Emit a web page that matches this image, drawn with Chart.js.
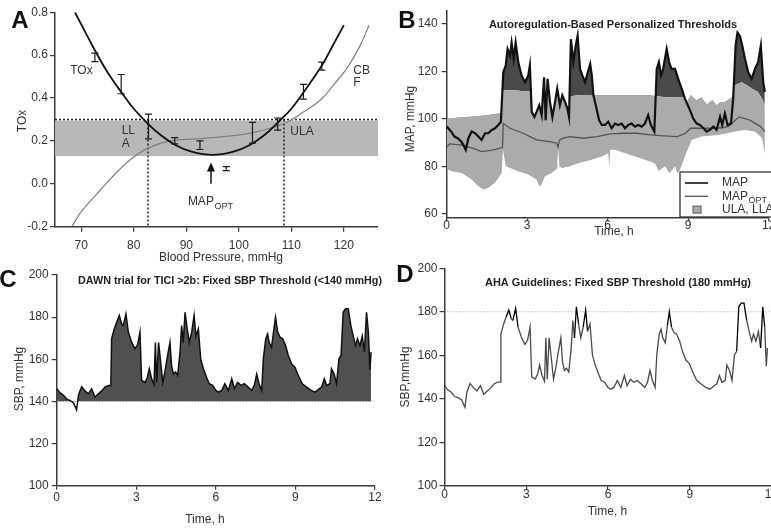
<!DOCTYPE html>
<html>
<head>
<meta charset="utf-8">
<script src="https://cdn.jsdelivr.net/npm/chart.js@4.4.1/dist/chart.umd.min.js"></script>
<style>
  html, body { margin: 0; padding: 0; background: #fff; }
  body { width: 771px; height: 529px; overflow: hidden; position: relative; }
  canvas { position: absolute; left: 0; top: 0; }
</style>
</head>
<body>
<canvas id="chartA" width="800" height="529"></canvas>
<canvas id="chartB" width="800" height="529"></canvas>
<canvas id="chartC" width="800" height="529"></canvas>
<canvas id="chartD" width="800" height="529"></canvas>
<script>
// ---------- panel A: TOx against blood pressure ----------
const aTicksX = [70, 80, 90, 100, 110, 120];
const aTicksY = [-0.2, 0, 0.2, 0.4, 0.6, 0.8];
const aToxX = [68.8, 72, 75, 78, 80, 82.7, 85, 88, 91, 95, 99, 102, 105, 108, 110, 113, 116, 118, 120];
const aTox  = [0.80, 0.65, 0.52, 0.415, 0.35, 0.28, 0.23, 0.18, 0.15, 0.135, 0.15, 0.18, 0.23, 0.30, 0.35, 0.45, 0.56, 0.65, 0.74];
const aCbfX = [68.2, 70, 73.6, 77, 80, 83, 87, 92, 97, 102, 106, 109, 112, 115.5, 118, 120.6, 123, 124.8];
const aCbf  = [-0.2, -0.13, -0.03, 0.06, 0.125, 0.17, 0.2, 0.21, 0.22, 0.235, 0.26, 0.285, 0.33, 0.39, 0.46, 0.54, 0.64, 0.74];
const aErrX  = [72.6, 77.6, 82.8, 87.8, 92.6, 97.6, 102.6, 107.4, 112.3, 115.8];
const aErrLo = [0.57, 0.42, 0.21, 0.186, 0.16, 0.062, 0.19, 0.25, 0.395, 0.53];
const aErrHi = [0.61, 0.51, 0.325, 0.215, 0.20, 0.08, 0.287, 0.307, 0.464, 0.568];
const aBand = [0.13, 0.295];     // grey zone low / high
const aLimit = 0.3;              // dotted TOx threshold
const aLimitsX = [82.7, 108.6];  // LLA, ULA
const aMapOpt = 94.7;
const aRangeX = [65, 126.5];

// ---------- panel B: personalised thresholds ----------
const bTicksX = [0, 3, 6, 9, 12];
const bTicksY = [60, 80, 100, 120, 140];
const bMapT = [0, 0.17, 0.29, 0.41, 0.54, 0.62, 0.71, 0.81, 0.93, 1.06, 1.18, 1.3, 1.43, 1.55, 1.68, 1.8, 1.92, 2.02,
  2.11, 2.2, 2.27, 2.36, 2.42, 2.5, 2.57, 2.67, 2.79, 2.92, 3.04, 3.1,
  3.17, 3.27, 3.35, 3.45, 3.54, 3.63, 3.69, 3.76, 3.85, 3.94, 4.04, 4.12, 4.22, 4.31, 4.41, 4.5, 4.56,
  4.63, 4.72, 4.81, 4.88, 4.97, 5.06, 5.16, 5.26, 5.35, 5.41, 5.47, 5.6, 5.68, 5.78,
  5.9, 6.02, 6.15, 6.27, 6.4, 6.52, 6.65, 6.77, 6.89, 7.02, 7.14, 7.27, 7.39, 7.51, 7.61, 7.74,
  7.83, 7.91, 7.99, 8.07, 8.2, 8.29, 8.38, 8.51, 8.63, 8.76, 8.88, 9.07, 9.19, 9.32, 9.44, 9.57, 9.69, 9.81, 9.94, 10.06, 10.19, 10.27, 10.37, 10.47, 10.6, 10.68,
  10.77, 10.84, 10.93, 11.02, 11.12, 11.24, 11.37, 11.49, 11.61, 11.71, 11.8, 11.86];
const bMap = [96.7, 94.6, 92.5, 91.8, 90.4, 89, 86.9, 91.8, 94.6, 93.9, 92.5, 91.1, 93.9, 93.9, 95.3, 96, 97.4, 98.7,
  119.6, 122.4, 129.4, 126.6, 132, 125.2, 132, 123.8, 118.2, 115.4, 118.2, 122.4,
  102.9, 100.8, 102.9, 105.7, 101.5, 117.5, 99.4, 116.8, 107.1, 100.8, 107.1, 112.7, 105.7, 109.9, 107.1, 104.3, 100.8,
  133.5, 123.8, 130.8, 134.9, 121, 118.2, 115.4, 119.6, 123.1, 118.2, 109.9, 103.6, 99.4, 97.4,
  97.4, 98.7, 96, 98, 97.4, 98, 96, 97.4, 98, 96.7, 97.4, 96.7, 98, 101.5, 97.4, 94.6,
  121, 123.8, 118.2, 121, 129.4, 123.8, 121, 121, 116.8, 112.7, 108.5, 103.6, 100.1, 98, 97.4, 96, 94.6, 95.3, 96.7, 95.3, 100.8, 97.4, 102.2, 97.4, 98, 108.5,
  130.8, 136.3, 134.9, 130.8, 125.2, 119.6, 116.8, 121, 123.8, 130.8, 115.4, 111.3];
const bOptT = [0, 0.1, 0.5, 1.0, 1.3, 1.7, 2.0, 2.08, 2.11, 2.36, 2.85, 3.35, 3.84, 4.1, 4.15, 4.2, 4.35, 4.6, 5.1, 5.6,
  6.1, 6.6, 7.1, 7.6, 8.1, 8.6, 8.9, 9.1, 9.6, 10.1, 10.5, 10.9, 11.3, 11.7, 11.86];
const bOpt = [88, 89.4, 89, 87.5, 86.2, 86.8, 87.6, 88, 98, 96, 93.9, 91.1, 90.4, 89.7, 88, 91, 91.8, 92.5, 91.8, 92.5,
  93.6, 93.9, 93.9, 93.2, 92.8, 92.5, 93.9, 96, 96, 96, 96.7, 100.8, 99.4, 96.7, 94.6];
const bUlaT = [0, 0.5, 1.0, 1.5, 2.0, 2.08, 2.11, 2.5, 3.0, 3.12,
  3.17, 3.27, 3.35, 3.45, 3.54, 3.63, 3.69, 3.76, 3.85, 3.94, 4.04, 4.12, 4.22, 4.31, 4.41, 4.5, 4.56,
  4.62, 5.0, 5.5, 6.0, 6.5, 7.0, 7.5, 7.8, 8.3, 8.85, 8.95,
  9.1, 9.3, 9.5, 9.7, 9.9, 10.06, 10.2, 10.37, 10.5, 10.65, 10.72, 11.0, 11.2, 11.37, 11.6, 11.75, 11.86];
const bUla = [100, 100.5, 101, 101.5, 102.3, 102.5, 112, 112, 111.5, 111.5,
  102.9, 100.8, 102.9, 105.7, 101.5, 117.5, 99.4, 116.8, 107.1, 100.8, 107.1, 112.7, 105.7, 109.9, 107.1, 104.3, 100.8,
  109.5, 110, 110, 110, 110, 110, 110, 109.5, 109, 109, 107,
  109.9, 107.8, 109, 106, 107.8, 105.7, 107, 107.1, 108, 109.2, 114, 115.4, 114, 112.7, 111.3, 108.5, 105.7];
const bLlaT = [0, 0.05, 0.19, 0.56, 0.93, 1.18, 1.37, 1.55, 1.8, 2.05, 2.1, 2.2, 2.36, 2.67, 3.04, 3.35, 3.45, 3.54, 3.66, 3.91,
  4.12, 4.15, 4.2, 4.29, 4.6, 4.9, 5.4, 5.78, 6.02, 6.06, 6.1, 6.27, 6.65, 7.02, 7.39, 7.76, 7.9, 8.14, 8.3, 8.51,
  8.6, 8.7, 8.88, 9.13, 9.5, 10.12, 10.75, 11.1, 11.49, 11.75, 11.86];
const bLla = [73.7, 78.6, 77.9, 77.2, 74.4, 71.6, 70.2, 70.9, 73, 77.2, 86.9, 80, 79.3, 77.9, 76.5, 74.4, 71.5, 72.3, 75.8, 77.2,
  79, 88, 80, 79.3, 80, 81.3, 82.7, 84.1, 85.5, 80, 87, 86.9, 85.5, 84.1, 82.7, 81.3, 78, 80, 77, 80,
  77, 78.6, 84.1, 91.1, 92.5, 93.2, 94.6, 95.3, 94.6, 92, 85.5];

// ---------- panels C and D: the same SBP trace ----------
const sbpTicksX = [0, 3, 6, 9, 12];
const sbpTicksY = [100, 120, 140, 160, 180, 200];
const sbpT = [0, 0.13, 0.25, 0.38, 0.5, 0.63, 0.75, 0.82, 0.94, 1.07,
  1.19, 1.32, 1.44, 1.57, 1.7, 1.82, 1.95, 2.04, 2.07, 2.16,
  2.26, 2.36, 2.45, 2.51, 2.61, 2.7, 2.83, 2.95, 3.05, 3.14,
  3.2, 3.33, 3.42, 3.49, 3.58, 3.67, 3.72, 3.77, 3.84, 3.92,
  4.0, 4.08, 4.17, 4.27, 4.33, 4.4, 4.48, 4.56, 4.65, 4.71,
  4.77, 4.84, 4.92, 5.0, 5.09, 5.18, 5.25, 5.34, 5.43, 5.53,
  5.65, 5.75, 5.88, 6.0, 6.09, 6.22, 6.34, 6.47, 6.6, 6.7,
  6.82, 6.95, 7.07, 7.22, 7.35, 7.45, 7.54, 7.63, 7.73, 7.79,
  7.88, 7.95, 8.01, 8.1, 8.18, 8.25, 8.33, 8.42, 8.52, 8.63,
  8.73, 8.86, 8.98, 9.11, 9.26, 9.42, 9.59, 9.74, 9.89, 9.99,
  10.09, 10.18, 10.3, 10.36, 10.46, 10.55, 10.64, 10.72, 10.8, 10.89,
  10.99, 11.09, 11.18, 11.27, 11.34, 11.43, 11.52, 11.6, 11.68, 11.75,
  11.81, 11.85];
const sbp = [146, 144, 143, 141, 140.5, 139.4, 136, 143, 147, 145,
  143.6, 146, 142, 143.6, 145, 146.8, 147.6, 147.6, 169.7, 174,
  177.6, 180.8, 176.8, 176, 181.5, 172.9, 168, 165, 167, 172.9,
  150, 149, 151.5, 155.5, 150.7, 148, 168, 149, 168, 158.6,
  149, 154, 161, 168, 157, 153, 154, 152.3, 163.4, 176,
  168, 182.3, 174.4, 168, 173, 180.8, 171, 174.4, 160, 155.5,
  151.5, 148.4, 147.6, 145.2, 144.4, 145.2, 148.4, 145.2, 150.7, 146,
  149, 147.6, 148.4, 146.8, 145.2, 147.6, 153, 148.4, 145.2, 160.2,
  169.7, 172, 168, 165.7, 173.6, 180, 172.9, 170.5, 169.7, 166.5,
  161.8, 157.8, 156.3, 152.3, 148.4, 146.8, 145.2, 144.4, 146, 146.8,
  150.7, 147.6, 148.4, 155.5, 153, 148.4, 160.2, 161.8, 182.3, 184,
  184, 176, 171, 166.5, 169.7, 166.5, 171, 163.4, 182.3, 172.9,
  155, 163.4];
const dawnLimit = 140;
const ahaLimit = 180;

// ---------- shared setup ----------
const FONT = '"Liberation Sans", Arial, Helvetica, sans-serif';
Chart.defaults.font.family = FONT;
Chart.defaults.font.size = 12;
Chart.defaults.color = '#333';
Chart.defaults.animation = false;
Chart.defaults.events = [];
Chart.defaults.plugins.legend.display = false;
Chart.defaults.plugins.tooltip.enabled = false;
Chart.defaults.elements.point.radius = 0;

const W = 800, H = 529;
const AXIS = '#3a3a3a';

const pts = (xs, ys) => xs.map((x, i) => ({ x, y: ys[i] }));

// each canvas covers the whole page, the padding puts the plot area where it belongs
function frame(box) {
  return { padding: { left: box.l - box.yw, top: box.t, right: W - box.r, bottom: H - box.b - box.xh } };
}

function axis(box, horizontal, min, max, ticks, tick, fmt) {
  return {
    type: 'linear', min, max,
    afterBuildTicks: s => { s.ticks = ticks.map(v => ({ value: v })); },
    afterFit: s => { if (horizontal) s.height = box.xh; else s.width = box.yw; },
    grid: { drawOnChartArea: false, drawTicks: true, tickLength: tick.len, color: AXIS, lineWidth: 1.2 },
    border: { display: true, color: AXIS, width: 1.5 },
    ticks: { padding: tick.pad, color: '#333', font: { size: 12 }, callback: fmt || (v => v) }
  };
}

const notes = {
  id: 'notes',
  afterDraw(chart, args, opts) {
    const { ctx, scales } = chart;
    for (const n of opts.items || []) {
      ctx.save();
      ctx.font = n.font || `12px ${FONT}`;
      ctx.fillStyle = n.color || '#333';
      ctx.textAlign = n.align || 'center';
      ctx.textBaseline = n.base || 'middle';
      const px = n.onData ? scales.x.getPixelForValue(n.x) : n.x;
      const py = n.onData ? scales.y.getPixelForValue(n.y) : n.y;
      ctx.translate(px, py);
      if (n.rot) ctx.rotate(n.rot);
      if (n.maxWidth) ctx.fillText(n.text, 0, 0, n.maxWidth);
      else ctx.fillText(n.text, 0, 0);
      if (n.sub) {
        const w = ctx.measureText(n.text).width;
        ctx.font = `9px ${FONT}`;
        ctx.textAlign = 'left';
        ctx.fillText(n.sub, w + 0.5, 4);
      }
      ctx.restore();
    }
  }
};

// ---------- A ----------
const errorBars = {
  id: 'errorBars',
  afterDatasetsDraw(chart) {
    const { ctx, scales: { x, y } } = chart;
    ctx.save();
    ctx.strokeStyle = '#1a1a1a';
    ctx.lineWidth = 1.2;
    aErrX.forEach((v, i) => {
      const px = x.getPixelForValue(v);
      const lo = y.getPixelForValue(aErrLo[i]);
      const hi = y.getPixelForValue(aErrHi[i]);
      ctx.beginPath();
      ctx.moveTo(px, lo); ctx.lineTo(px, hi);
      ctx.moveTo(px - 3.5, lo); ctx.lineTo(px + 3.5, lo);
      ctx.moveTo(px - 3.5, hi); ctx.lineTo(px + 3.5, hi);
      ctx.stroke();
    });
    // arrow pointing at MAP opt
    const ax = x.getPixelForValue(aMapOpt);
    const y0 = y.getPixelForValue(0);
    const y1 = y.getPixelForValue(0.1);
    ctx.lineWidth = 1.5;
    ctx.beginPath(); ctx.moveTo(ax, y0); ctx.lineTo(ax, y1 + 6); ctx.stroke();
    ctx.fillStyle = '#111';
    ctx.beginPath(); ctx.moveTo(ax, y1); ctx.lineTo(ax - 4, y1 + 9); ctx.lineTo(ax + 4, y1 + 9); ctx.closePath(); ctx.fill();
    ctx.restore();
  }
};

const boxA = { l: 55, t: 12.3, r: 378, b: 226.7, yw: 50, xh: 38 };
new Chart(document.getElementById('chartA'), {
  type: 'line',
  data: {
    datasets: [
      { data: pts(aToxX, aTox), borderColor: '#111', borderWidth: 1.8, tension: 0.4, fill: false },
      { data: pts(aCbfX, aCbf), borderColor: '#808080', borderWidth: 1.2, tension: 0.4, fill: false },
      { data: pts(aRangeX, [aLimit, aLimit]), borderColor: '#222', borderWidth: 1.5, borderDash: [2, 2], fill: false },
      { data: pts([aLimitsX[0], aLimitsX[0]], [aLimit, -0.2]), borderColor: '#222', borderWidth: 1.5, borderDash: [2, 2], fill: false },
      { data: pts([aLimitsX[1], aLimitsX[1]], [aLimit, -0.2]), borderColor: '#222', borderWidth: 1.5, borderDash: [2, 2], fill: false },
      { data: pts(aRangeX, [aBand[1], aBand[1]]), borderWidth: 0, backgroundColor: '#b8b8b8', fill: '+1' },
      { data: pts(aRangeX, [aBand[0], aBand[0]]), borderWidth: 0, fill: false }
    ]
  },
  options: {
    responsive: false,
    layout: frame(boxA),
    scales: {
      x: axis(boxA, true, aRangeX[0], aRangeX[1], aTicksX, { len: 5, pad: 7 }),
      y: axis(boxA, false, -0.2, 0.8, aTicksY, { len: 5, pad: 2 }, v => v.toFixed(1))
    },
    plugins: {
      notes: { items: [
        { text: 'A', x: 20, y: 28, base: 'alphabetic', font: `bold 24px ${FONT}`, color: '#111' },
        { text: 'TOx', x: 23, y: 121, rot: -Math.PI / 2 },
        { text: 'Blood Pressure, mmHg', x: 221, y: 257.5 },
        { text: 'TOx', x: 67.9, y: 0.526, align: 'left', onData: true },
        { text: 'CB', x: 121.8, y: 0.527, align: 'left', onData: true },
        { text: 'F', x: 121.8, y: 0.473, align: 'left', onData: true },
        { text: 'LL', x: 77.7, y: 0.246, align: 'left', onData: true },
        { text: 'A', x: 77.7, y: 0.186, align: 'left', onData: true },
        { text: 'ULA', x: 109.8, y: 0.243, align: 'left', onData: true },
        { text: 'MAP', sub: 'OPT', x: 90.3, y: -0.085, align: 'left', onData: true }
      ] }
    }
  },
  plugins: [errorBars, notes]
});

// ---------- B ----------
const legendBox = {
  id: 'legendBox',
  afterDraw(chart, args, o) {
    const { ctx } = chart;
    const ds = chart.data.datasets;
    ctx.save();
    ctx.fillStyle = '#fff';
    ctx.fillRect(o.x, o.y, o.w, o.h);
    ctx.strokeStyle = '#333';
    ctx.lineWidth = 1.3;
    ctx.strokeRect(o.x, o.y, o.w, o.h);
    ctx.font = `12px ${FONT}`;
    ctx.textBaseline = 'middle';
    o.rows.forEach((r, i) => {
      const d = ds[r.ds];
      const cy = o.y + 11 + i * 13.3;
      if (r.swatch === 'line') {
        ctx.strokeStyle = d.borderColor;
        ctx.lineWidth = Math.min(d.borderWidth, 1.6);
        ctx.beginPath(); ctx.moveTo(o.x + 5, cy); ctx.lineTo(o.x + 28, cy); ctx.stroke();
      } else {
        ctx.fillStyle = d.backgroundColor;
        ctx.fillRect(o.x + 13, cy - 3.5, 8, 7);
        ctx.strokeStyle = '#555'; ctx.lineWidth = 1;
        ctx.strokeRect(o.x + 13, cy - 3.5, 8, 7);
      }
      ctx.fillStyle = '#333';
      ctx.font = `12px ${FONT}`;
      ctx.fillText(d.label, o.x + 42, cy);
      if (r.sub) {
        const w = ctx.measureText(d.label).width;
        ctx.font = `9px ${FONT}`;
        ctx.fillText(r.sub, o.x + 42.5 + w, cy + 4);
      }
    });
    ctx.restore();
  }
};

const boxB = { l: 446.7, t: 10, r: 768.6, b: 217.3, yw: 50, xh: 20 };
new Chart(document.getElementById('chartB'), {
  type: 'line',
  data: {
    datasets: [
      { label: 'MAP', data: pts(bMapT, bMap), borderColor: '#111', borderWidth: 2.2,
        backgroundColor: '#4a4a4a', fill: { target: 2, above: '#4a4a4a', below: 'rgba(0,0,0,0)' } },
      { label: 'MAP', data: pts(bOptT, bOpt), borderColor: '#555', borderWidth: 1.3, fill: false },
      { label: 'ULA, LLA', data: pts(bUlaT, bUla), borderWidth: 0, backgroundColor: '#ababab', fill: '+1' },
      { label: 'LLA', data: pts(bLlaT, bLla), borderWidth: 0, fill: false }
    ]
  },
  options: {
    responsive: false,
    layout: frame(boxB),
    scales: {
      x: axis(boxB, true, 0, 12, bTicksX, { len: 4, pad: -3 }),
      y: axis(boxB, false, 58.5, 145.3, bTicksY, { len: 5, pad: 4 })
    },
    plugins: {
      legendBox: { x: 680, y: 172, w: 110, h: 45, rows: [
        { ds: 0, swatch: 'line' }, { ds: 1, swatch: 'line', sub: 'OPT' }, { ds: 2, swatch: 'box' }
      ] },
      notes: { items: [
        { text: 'B', x: 407, y: 28, base: 'alphabetic', font: `bold 24px ${FONT}`, color: '#111' },
        { text: 'Autoregulation-Based Personalized Thresholds', x: 613, y: 28, base: 'alphabetic',
          font: `bold 11px ${FONT}`, color: '#222', maxWidth: 250 },
        { text: 'MAP, mmHg', x: 411, y: 119, rot: -Math.PI / 2 },
        { text: 'Time, h', x: 614, y: 231.7 }
      ] }
    }
  },
  plugins: [legendBox, notes]
});

// ---------- C ----------
const boxC = { l: 56.7, t: 275, r: 375, b: 485.7, yw: 50, xh: 30 };
new Chart(document.getElementById('chartC'), {
  type: 'line',
  data: {
    datasets: [
      { data: pts(sbpT, sbp), borderColor: '#111', borderWidth: 1.5, backgroundColor: '#505050',
        fill: { target: { value: dawnLimit }, above: '#505050', below: 'rgba(0,0,0,0)' } },
      { data: pts([0, 12], [dawnLimit, dawnLimit]), borderColor: '#9a9a9a', borderWidth: 1, borderDash: [1, 2], fill: false }
    ]
  },
  options: {
    responsive: false,
    layout: frame(boxC),
    scales: {
      x: axis(boxC, true, 0, 12, sbpTicksX, { len: 4, pad: 1 }),
      y: axis(boxC, false, 100, 200, sbpTicksY, { len: 5, pad: 3 })
    },
    plugins: {
      notes: { items: [
        { text: 'C', x: 8, y: 287, base: 'alphabetic', font: `bold 24px ${FONT}`, color: '#111' },
        { text: 'DAWN trial for TICI >2b: Fixed SBP Threshold (<140 mmHg)', x: 230, y: 284, base: 'alphabetic',
          font: `bold 11px ${FONT}`, color: '#222', maxWidth: 304 },
        { text: 'SBP, mmHg', x: 20, y: 379, rot: -Math.PI / 2 },
        { text: 'Time, h', x: 205, y: 520 }
      ] }
    }
  },
  plugins: [notes]
});

// ---------- D ----------
const boxD = { l: 444.5, t: 268.3, r: 771.5, b: 485.7, yw: 50, xh: 30 };
new Chart(document.getElementById('chartD'), {
  type: 'line',
  data: {
    datasets: [
      { data: pts(sbpT, sbp), borderColor: '#4a4a4a', borderWidth: 1.3, fill: false,
        segment: { borderColor: c => (c.p0.parsed.y >= ahaLimit - 1 || c.p1.parsed.y >= ahaLimit - 1) ? '#000' : undefined } },
      { data: pts([0, 12], [ahaLimit, ahaLimit]), borderColor: '#9a9a9a', borderWidth: 1, borderDash: [1, 2], fill: false }
    ]
  },
  options: {
    responsive: false,
    layout: frame(boxD),
    scales: {
      x: axis(boxD, true, 0, 12, sbpTicksX, { len: 4, pad: -2 }),
      y: axis(boxD, false, 100, 200, sbpTicksY, { len: 5, pad: 2 })
    },
    plugins: {
      notes: { items: [
        { text: 'D', x: 405, y: 282, base: 'alphabetic', font: `bold 24px ${FONT}`, color: '#111' },
        { text: 'AHA Guidelines: Fixed SBP Threshold (180 mmHg)', x: 618, y: 286, base: 'alphabetic',
          font: `bold 11px ${FONT}`, color: '#222', maxWidth: 266 },
        { text: 'SBP,mmHg', x: 406, y: 377, rot: -Math.PI / 2 },
        { text: 'Time, h', x: 607.5, y: 511.7 }
      ] }
    }
  },
  plugins: [notes]
});
</script>
</body>
</html>
